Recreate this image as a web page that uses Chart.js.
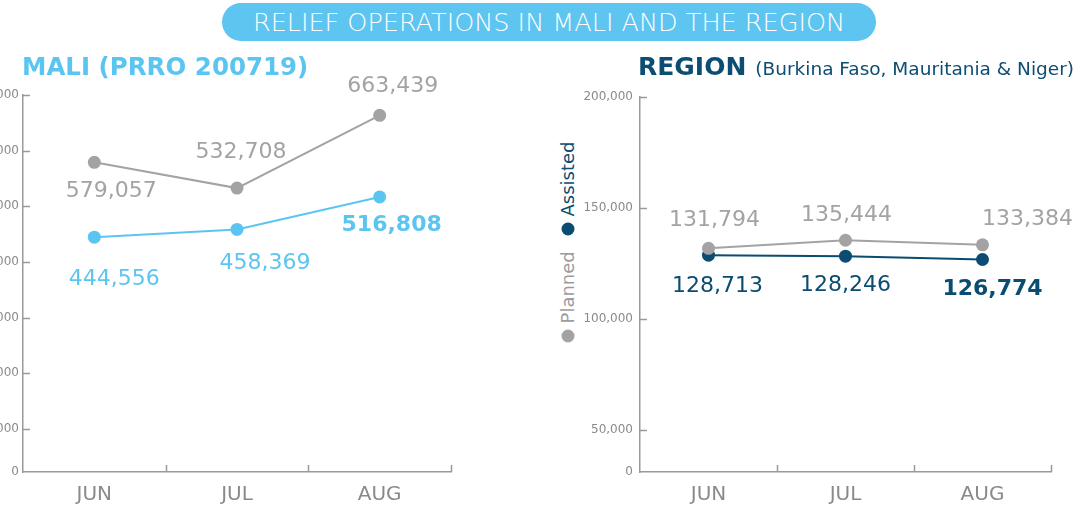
<!DOCTYPE html>
<html>
<head>
<meta charset="utf-8">
<script src="https://cdn.jsdelivr.net/npm/chart.js@4.4.1/dist/chart.umd.min.js"></script>
<style>
  body { margin: 0; width: 1080px; height: 506px; overflow: hidden; position: relative; background: #fff;
         font-family: "DejaVu Sans", Verdana, sans-serif; }
  #banner { position: absolute; left: 222px; top: 3px; width: 654px; height: 38px; border-radius: 19px;
            background: #5ec4f0; color: #fff; font-size: 25.5px; font-weight: 200; line-height: 38px; text-align: center; }
  .title { position: absolute; top: 52px; font-weight: bold; white-space: nowrap; }
  #maliTitle { left: 22px; color: #5bc5f2; font-size: 24.5px; }
  #regionTitle { left: 638px; color: #0b4d73; font-size: 25px; }
  #regionTitle span { font-weight: normal; font-size: 18.5px; margin-left: 9px; }
  #legend { position: absolute; left: 567px; top: 242px; transform: translate(-50%, -50%) rotate(-90deg);
            white-space: nowrap; font-size: 18px; }
  #legend .dot { display: inline-block; width: 13px; height: 13px; border-radius: 50%; margin-right: 6px; vertical-align: -1px; }
  canvas { position: absolute; }
  #mali { left: -37px; top: 45px; }
  #region { left: 580px; top: 45px; }
</style>
</head>
<body>
<canvas id="mali" width="500" height="461"></canvas>
<canvas id="region" width="500" height="461"></canvas>
<div id="banner">RELIEF OPERATIONS IN MALI AND THE REGION</div>
<div class="title" id="maliTitle">MALI (PRRO 200719)</div>
<div class="title" id="regionTitle">REGION<span>(Burkina Faso, Mauritania &amp; Niger)</span></div>
<div id="legend">
  <span class="dot" style="background:#a3a3a3"></span><span style="color:#9c9c9c">Planned</span>
  <span class="dot" style="background:#0a4c72; margin-left:10px"></span><span style="color:#0a4c72">Assisted</span>
</div>
<script>
const months = ['JUN', 'JUL', 'AUG'];

const maliPlanned = [579057, 532708, 663439];
const maliAssisted = [444556, 458369, 516808];
const maliTicks = [0, 100000, 200000, 300000, 400000, 500000, 600000, 700000];

const regionPlanned = [131794, 135444, 133384];
const regionAssisted = [128713, 128246, 126774];
const regionTicks = [0, 50000, 100000, 150000, 200000];

const grey = '#a3a3a3';
const axisGrey = '#9a9a9a';
const lightBlue = '#5bc5f2';
const darkBlue = '#0a4c72';

// small inward tick marks on both axes
const innerTicks = {
  id: 'innerTicks',
  afterDraw(chart) {
    const { ctx, chartArea: a, scales: { x, y } } = chart;
    ctx.save();
    ctx.strokeStyle = axisGrey;
    ctx.lineWidth = 1.5;
    ctx.beginPath();
    y.ticks.forEach((t, i) => {
      if (i === 0) return;
      const py = Math.round(y.getPixelForTick(i)) + 0.5;
      ctx.moveTo(a.left, py);
      ctx.lineTo(a.left + 7, py);
    });
    const n = x.ticks.length;
    for (let i = 1; i <= n; i++) {
      const px = Math.round(a.left + (a.right - a.left) * i / n) + 0.5;
      ctx.moveTo(px, a.bottom);
      ctx.lineTo(px, a.bottom - 7);
    }
    ctx.stroke();
    ctx.restore();
  },
};

// value labels next to each point
const pointLabels = {
  id: 'pointLabels',
  afterDatasetsDraw(chart, args, opts) {
    const ctx = chart.ctx;
    ctx.save();
    ctx.textAlign = 'center';
    ctx.textBaseline = 'middle';
    chart.data.datasets.forEach((ds, di) => {
      chart.getDatasetMeta(di).data.forEach((pt, i) => {
        const [dx, dy] = opts.offsets[di][i];
        const bold = opts.bold[di] === i;
        ctx.font = (bold ? 'bold ' : '') + '22px "DejaVu Sans", Verdana, sans-serif';
        ctx.fillStyle = ds.borderColor;
        ctx.fillText(ds.data[i].toLocaleString('en-US'), pt.x + dx, pt.y + dy);
      });
    });
    ctx.restore();
  },
};

function makeChart(id, planned, assisted, assistedColour, ticks, floor, max, labelPad, padRight, padTop, labelOpts) {
  const line = (label, data, colour) => ({
    label, data,
    borderColor: colour,
    backgroundColor: colour,
    pointBackgroundColor: colour,
    borderWidth: 2,
    pointRadius: 6.5,
    pointBorderWidth: 0,
    pointHoverRadius: 6.5,
  });

  return new Chart(document.getElementById(id), {
    type: 'line',
    data: {
      labels: months,
      datasets: [line('Planned', planned, grey), line('Assisted', assisted, assistedColour)],
    },
    options: {
      responsive: false,
      animation: false,
      events: [],
      layout: { padding: { top: padTop, right: padRight, left: 0, bottom: 0 } },
      plugins: {
        legend: { display: false },
        tooltip: { enabled: false },
        pointLabels: labelOpts,
      },
      scales: {
        x: {
          offset: true,
          grid: { display: true, drawOnChartArea: false, drawTicks: false },
          border: { display: true, color: axisGrey, width: 1.5 },
          ticks: { color: '#8a8a8a', padding: 11, font: { size: 20, family: '"DejaVu Sans", Verdana, sans-serif' } },
          afterFit(scale) { scale.height = 34; },
        },
        y: {
          min: floor,
          max,
          grid: { display: true, drawOnChartArea: false, drawTicks: false },
          border: { display: true, color: axisGrey, width: 1.5 },
          afterBuildTicks(scale) {
            scale.ticks = ticks.map(v => ({ value: Math.max(v, floor) }));
          },
          ticks: {
            color: '#8a8a8a',
            padding: labelPad,
            font: { size: 12, family: '"DejaVu Sans", Verdana, sans-serif' },
            callback: v => (v <= floor ? '0' : v.toLocaleString('en-US')),
          },
          afterFit(scale) { scale.width = 60; },
        },
      },
    },
    plugins: [innerTicks, pointLabels],
  });
}

makeChart('mali', maliPlanned, maliAssisted, lightBlue, maliTicks, 22500, 700000, 4, 12, 50, {
  offsets: [[[17, 29], [4, -36], [13, -29]], [[20, 42], [28, 34], [12, 28]]],
  bold: [-1, 2],
});

makeChart('region', regionPlanned, regionAssisted, darkBlue, regionTicks, 31000, 200000, 7, 29, 52, {
  offsets: [[[6, -28], [1, -25], [45, -26]], [[9, 31], [0, 29], [10, 30]]],
  bold: [-1, 2],
});
</script>
</body>
</html>
